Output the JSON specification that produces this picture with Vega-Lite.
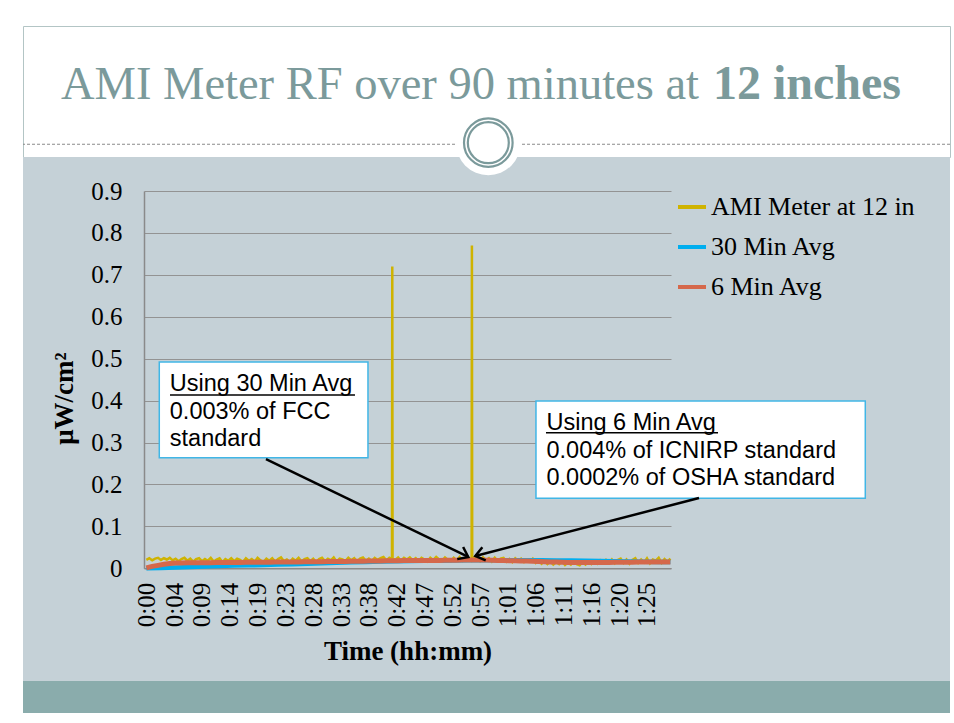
{
  "$schema": "https://vega.github.io/schema/vega-lite/v6.json",
  "background": "white",
  "padding": {"left": 22, "top": 25, "right": 5, "bottom": 11},
  "spacing": 0,
  "bounds": "flush",
  "datasets": {
    "ami": [
      {"t":0,"v":0.020},{"t":0.5,"v":0.024},{"t":1,"v":0.019},{"t":1.5,"v":0.023},{"t":2,"v":0.025},{"t":2.5,"v":0.020},{"t":3,"v":0.024},{"t":3.5,"v":0.021},{"t":4,"v":0.025},{"t":4.5,"v":0.019},
      {"t":5,"v":0.023},{"t":5.5,"v":0.017},{"t":6,"v":0.022},{"t":6.5,"v":0.025},{"t":7,"v":0.018},{"t":7.5,"v":0.023},{"t":8,"v":0.016},{"t":8.5,"v":0.022},{"t":9,"v":0.024},{"t":9.5,"v":0.017},
      {"t":10,"v":0.022},{"t":10.5,"v":0.018},{"t":11,"v":0.025},{"t":11.5,"v":0.016},{"t":12,"v":0.021},{"t":12.5,"v":0.024},{"t":13,"v":0.015},{"t":13.5,"v":0.022},{"t":14,"v":0.018},{"t":14.5,"v":0.024},
      {"t":15,"v":0.017},{"t":15.5,"v":0.023},{"t":16,"v":0.020},{"t":16.5,"v":0.015},{"t":17,"v":0.024},{"t":17.5,"v":0.018},{"t":18,"v":0.022},{"t":18.5,"v":0.016},{"t":19,"v":0.025},{"t":19.5,"v":0.019},
      {"t":20,"v":0.015},{"t":20.5,"v":0.023},{"t":21,"v":0.018},{"t":21.5,"v":0.024},{"t":22,"v":0.016},{"t":22.5,"v":0.022},{"t":23,"v":0.026},{"t":23.5,"v":0.017},{"t":24,"v":0.021},{"t":24.5,"v":0.015},
      {"t":25,"v":0.023},{"t":25.5,"v":0.018},{"t":26,"v":0.025},{"t":26.5,"v":0.016},{"t":27,"v":0.022},{"t":27.5,"v":0.024},{"t":28,"v":0.017},{"t":28.5,"v":0.023},{"t":29,"v":0.015},{"t":29.5,"v":0.022},
      {"t":30,"v":0.025},{"t":30.5,"v":0.017},{"t":31,"v":0.023},{"t":31.5,"v":0.019},{"t":32,"v":0.026},{"t":32.5,"v":0.016},{"t":33,"v":0.023},{"t":33.5,"v":0.021},{"t":34,"v":0.017},{"t":34.5,"v":0.025},
      {"t":35,"v":0.019},{"t":35.5,"v":0.024},{"t":36,"v":0.016},{"t":36.5,"v":0.023},{"t":37,"v":0.026},{"t":37.5,"v":0.018},{"t":38,"v":0.023},{"t":38.5,"v":0.017},{"t":39,"v":0.025},{"t":39.5,"v":0.020},
      {"t":40,"v":0.024},{"t":40.5,"v":0.027},{"t":41,"v":0.019},{"t":41.5,"v":0.025},{"t":41.95,"v":0.022},{"t":42,"v":0.72},{"t":42.05,"v":0.023},{"t":42.5,"v":0.020},{"t":43,"v":0.026},{"t":43.5,"v":0.018},{"t":44,"v":0.025},{"t":44.5,"v":0.021},
      {"t":45,"v":0.026},{"t":45.5,"v":0.019},{"t":46,"v":0.024},{"t":46.5,"v":0.017},{"t":47,"v":0.025},{"t":47.5,"v":0.021},{"t":48,"v":0.016},{"t":48.5,"v":0.025},{"t":49,"v":0.020},{"t":49.5,"v":0.027},
      {"t":50,"v":0.021},{"t":50.5,"v":0.018},{"t":51,"v":0.026},{"t":51.5,"v":0.020},{"t":52,"v":0.017},{"t":52.5,"v":0.025},{"t":53,"v":0.019},{"t":53.5,"v":0.027},{"t":54,"v":0.018},{"t":54.5,"v":0.023},
      {"t":55,"v":0.026},{"t":55.5,"v":0.019},{"t":55.55,"v":0.022},{"t":55.6,"v":0.77},{"t":55.65,"v":0.022},{"t":56,"v":0.025},{"t":56.5,"v":0.020},{"t":57,"v":0.017},{"t":57.5,"v":0.026},{"t":58,"v":0.019},{"t":58.5,"v":0.024},{"t":59,"v":0.016},{"t":59.5,"v":0.025},
      {"t":60,"v":0.017},{"t":60.5,"v":0.023},{"t":61,"v":0.025},{"t":61.5,"v":0.016},{"t":62,"v":0.022},{"t":62.5,"v":0.015},{"t":63,"v":0.024},{"t":63.5,"v":0.018},{"t":64,"v":0.023},{"t":64.5,"v":0.015},
      {"t":65,"v":0.021},{"t":65.5,"v":0.016},{"t":66,"v":0.023},{"t":66.5,"v":0.013},{"t":67,"v":0.019},{"t":67.5,"v":0.011},{"t":68,"v":0.017},{"t":68.5,"v":0.010},{"t":69,"v":0.016},{"t":69.5,"v":0.009},
      {"t":70,"v":0.015},{"t":70.5,"v":0.010},{"t":71,"v":0.017},{"t":71.5,"v":0.008},{"t":72,"v":0.014},{"t":72.5,"v":0.009},{"t":73,"v":0.016},{"t":73.5,"v":0.010},{"t":74,"v":0.007},{"t":74.5,"v":0.015},
      {"t":75,"v":0.009},{"t":75.5,"v":0.016},{"t":76,"v":0.010},{"t":76.5,"v":0.018},{"t":77,"v":0.011},{"t":77.5,"v":0.019},{"t":78,"v":0.012},{"t":78.5,"v":0.020},{"t":79,"v":0.013},{"t":79.5,"v":0.021},
      {"t":80,"v":0.012},{"t":80.5,"v":0.020},{"t":81,"v":0.023},{"t":81.5,"v":0.013},{"t":82,"v":0.021},{"t":82.5,"v":0.011},{"t":83,"v":0.020},{"t":83.5,"v":0.024},{"t":84,"v":0.013},{"t":84.5,"v":0.021},
      {"t":85,"v":0.014},{"t":85.5,"v":0.024},{"t":86,"v":0.012},{"t":86.5,"v":0.021},{"t":87,"v":0.018},{"t":87.5,"v":0.025},{"t":88,"v":0.013},{"t":88.5,"v":0.022},{"t":89,"v":0.016},{"t":89.5,"v":0.023}
    ],
    "avg30": [
      {"t":0,"v":0.0},{"t":2.5,"v":0.001},{"t":5,"v":0.002},{"t":7.5,"v":0.003},{"t":10,"v":0.0045},{"t":12.5,"v":0.0055},{"t":15,"v":0.0065},{"t":17.5,"v":0.007},{"t":20,"v":0.0078},{"t":22.5,"v":0.0088},
      {"t":25,"v":0.0098},{"t":27.5,"v":0.011},{"t":30,"v":0.0122},{"t":32.5,"v":0.0133},{"t":35,"v":0.0143},{"t":37.5,"v":0.0152},{"t":40,"v":0.016},{"t":42.5,"v":0.0168},{"t":45,"v":0.0174},{"t":47.5,"v":0.0179},
      {"t":50,"v":0.0183},{"t":52.5,"v":0.0187},{"t":55,"v":0.019},{"t":57.5,"v":0.0192},{"t":60,"v":0.0193},{"t":62.5,"v":0.0193},{"t":65,"v":0.0192},{"t":67.5,"v":0.019},{"t":70,"v":0.0187},{"t":72.5,"v":0.0184},
      {"t":75,"v":0.018},{"t":77.5,"v":0.0175},{"t":80,"v":0.0168},{"t":82.5,"v":0.0162},{"t":85,"v":0.0157},{"t":87.5,"v":0.0153},{"t":89.5,"v":0.0151}
    ],
    "avg6": [
      {"t":0,"v":0.001},{"t":1,"v":0.0045},{"t":2,"v":0.007},{"t":3,"v":0.0095},{"t":4,"v":0.0115},{"t":5,"v":0.0125},{"t":6,"v":0.0128},{"t":7,"v":0.013},{"t":8,"v":0.0131},{"t":9,"v":0.0132},
      {"t":10,"v":0.0133},{"t":11,"v":0.0135},{"t":12,"v":0.0136},{"t":13,"v":0.0137},{"t":14,"v":0.0138},{"t":15,"v":0.014},{"t":16,"v":0.0141},{"t":17,"v":0.0142},{"t":18,"v":0.0143},{"t":19,"v":0.0144},
      {"t":20,"v":0.0145},{"t":21,"v":0.0147},{"t":22,"v":0.0148},{"t":23,"v":0.015},{"t":24,"v":0.0151},{"t":25,"v":0.0152},{"t":26,"v":0.0153},{"t":27,"v":0.0155},{"t":28,"v":0.0156},{"t":29,"v":0.0157},
      {"t":30,"v":0.0158},{"t":31,"v":0.016},{"t":32,"v":0.0161},{"t":33,"v":0.0163},{"t":34,"v":0.0165},{"t":35,"v":0.0166},{"t":36,"v":0.0168},{"t":37,"v":0.017},{"t":38,"v":0.0172},{"t":39,"v":0.0174},
      {"t":40,"v":0.0176},{"t":41,"v":0.0178},{"t":42,"v":0.018},{"t":43,"v":0.0182},{"t":44,"v":0.0184},{"t":45,"v":0.0185},{"t":46,"v":0.0186},{"t":47,"v":0.0186},{"t":48,"v":0.0187},{"t":49,"v":0.0188},
      {"t":50,"v":0.0189},{"t":51,"v":0.019},{"t":52,"v":0.0191},{"t":53,"v":0.0193},{"t":54,"v":0.0195},{"t":55,"v":0.0197},{"t":56,"v":0.0198},{"t":57,"v":0.0197},{"t":58,"v":0.0195},{"t":59,"v":0.0192},
      {"t":60,"v":0.0189},{"t":61,"v":0.0186},{"t":62,"v":0.0183},{"t":63,"v":0.018},{"t":64,"v":0.0176},{"t":65,"v":0.0172},{"t":66,"v":0.0168},{"t":67,"v":0.0163},{"t":68,"v":0.0158},{"t":69,"v":0.0153},
      {"t":70,"v":0.0148},{"t":71,"v":0.0144},{"t":72,"v":0.0141},{"t":73,"v":0.0139},{"t":74,"v":0.0138},{"t":75,"v":0.0137},{"t":76,"v":0.0137},{"t":77,"v":0.0138},{"t":78,"v":0.0139},{"t":79,"v":0.0141},
      {"t":80,"v":0.0143},{"t":81,"v":0.0145},{"t":82,"v":0.0146},{"t":83,"v":0.0147},{"t":84,"v":0.0148},{"t":85,"v":0.0149},{"t":86,"v":0.015},{"t":87,"v":0.015},{"t":88,"v":0.0151},{"t":89,"v":0.0151},{"t":89.5,"v":0.0151}
    ],
    "boxes": [
      {"t1":2.21,"t2":37.85,"v1":0.2638,"v2":0.4921,"ut1":4.04,"ut2":35.63,"uv":0.4134,"txt":"Using 30 Min Avg\n0.003% of FCC\nstandard"},
      {"t1":66.54,"t2":122.78,"v1":0.167,"v2":0.3991,"ut1":68.25,"ut2":97.63,"uv":0.3235,"txt":"Using 6 Min Avg\n0.004% of ICNIRP standard\n0.0002% of OSHA standard"}
    ],
    "arrows": [
      {"id":1,"t1":20.43,"v1":0.2607,"t2":54.98,"v2":0.027},
      {"id":2,"t1":94.38,"v1":0.1677,"t2":56.18,"v2":0.0293}
    ]
  },
  "vconcat": [
    {
      "width": 927,
      "height": 131,
      "view": {"fill": "white", "stroke": "#b3c5c5", "strokeWidth": 1},
      "data": {"values": [{"a": "AMI Meter RF over 90 minutes at", "b": "12 inches"}]},
      "layer": [
        {"mark": {"type": "text", "font": "Liberation Serif", "fontSize": 46.5, "color": "#7b9a9b", "align": "right", "baseline": "alphabetic", "dx": 212.5, "dy": 7.5},
         "encoding": {"text": {"field": "a", "type": "nominal"}}},
        {"mark": {"type": "text", "font": "Liberation Serif", "fontSize": 48, "fontWeight": "bold", "color": "#7b9a9b", "align": "left", "baseline": "alphabetic", "dx": 226.5, "dy": 7.5},
         "encoding": {"text": {"field": "b", "type": "nominal"}}}
      ]
    },
    {
      "width": 927,
      "height": 524,
      "view": {"fill": "#c5d1d7", "stroke": null},
      "layer": [
        {
          "data": {"name": "ami"},
          "mark": {"type": "line", "strokeWidth": 2.5},
          "encoding": {
            "x": {"field": "t", "type": "quantitative",
              "scale": {"domain": [-0.4, 89.6], "range": [121, 648], "nice": false, "zero": false},
              "axis": {"title": "Time (hh:mm)", "values": [0,4.75,9.5,14.25,19,23.75,28.5,33.25,38,42.75,47.5,52.25,57,61.75,66.5,71.25,76,80.75,85.5],
                "labelExpr": "floor(datum.value/60) + ':' + (floor(datum.value%60) < 10 ? '0' : '') + floor(datum.value%60)",
                "labelAngle": -90, "labelFontSize": 25, "labelPadding": 14, "titleFontSize": 27, "titlePadding": 12, "offset": -112.7, "grid": false}},
            "y": {"field": "v", "type": "quantitative",
              "scale": {"domain": [0, 0.9], "range": [411.3, 34], "nice": false, "zero": false},
              "axis": {"title": "μW/cm²", "values": [0,0.1,0.2,0.3,0.4,0.5,0.6,0.7,0.8,0.9], "format": ".1~f",
                "labelFontSize": 25, "labelPadding": 22, "titleFontSize": 27, "titlePadding": 12, "titleY": 241, "offset": -121, "grid": true}},
            "color": {"datum": "AMI Meter at 12 in",
              "scale": {"domain": ["AMI Meter at 12 in", "30 Min Avg", "6 Min Avg"], "range": ["#cfb300", "#00aeef", "#d5684b"]},
              "legend": {"orient": "none", "legendX": 653, "legendY": 165, "title": null, "symbolType": "stroke", "symbolSize": 784, "symbolStrokeWidth": 4,
                "labelFont": "Liberation Serif", "labelFontSize": 26, "labelColor": "black", "labelOffset": 3, "rowPadding": 11, "padding": 0, "labelLimit": 300}}
          }
        },
        {
          "data": {"name": "avg30"},
          "mark": {"type": "line", "strokeWidth": 4.5},
          "encoding": {
            "x": {"field": "t", "type": "quantitative"},
            "y": {"field": "v", "type": "quantitative"},
            "color": {"datum": "30 Min Avg"}
          }
        },
        {
          "data": {"name": "avg6"},
          "mark": {"type": "line", "strokeWidth": 5},
          "encoding": {
            "x": {"field": "t", "type": "quantitative"},
            "y": {"field": "v", "type": "quantitative"},
            "color": {"datum": "6 Min Avg"}
          }
        },
        {
          "data": {"values": [{}]},
          "mark": {"type": "rule", "stroke": "#8a8a8a", "strokeWidth": 1, "strokeDash": [3, 2]},
          "encoding": {"y": {"datum": 1.0115, "type": "quantitative"}}
        },
        {
          "data": {"values": [{}]},
          "mark": {"type": "point", "shape": "circle", "filled": true, "fill": "white", "size": 4225, "opacity": 1, "strokeWidth": 0},
          "encoding": {"x": {"datum": 58.4, "type": "quantitative"}, "y": {"datum": 1.0153, "type": "quantitative"}}
        },
        {
          "data": {"values": [{}]},
          "mark": {"type": "point", "shape": "circle", "filled": false, "stroke": "#7b9a9b", "strokeWidth": 2.2, "size": 2362, "opacity": 1},
          "encoding": {"x": {"datum": 58.4, "type": "quantitative"}, "y": {"datum": 1.0153, "type": "quantitative"}}
        },
        {
          "data": {"values": [{}]},
          "mark": {"type": "point", "shape": "circle", "filled": false, "stroke": "#7b9a9b", "strokeWidth": 2.2, "size": 1681, "opacity": 1},
          "encoding": {"x": {"datum": 58.4, "type": "quantitative"}, "y": {"datum": 1.0153, "type": "quantitative"}}
        },
        {
          "data": {"name": "boxes"},
          "mark": {"type": "rect", "fill": "white", "stroke": "#41b6e6", "strokeWidth": 1.5},
          "encoding": {
            "x": {"field": "t1", "type": "quantitative"}, "x2": {"field": "t2"},
            "y": {"field": "v1", "type": "quantitative"}, "y2": {"field": "v2"}
          }
        },
        {
          "data": {"name": "boxes"},
          "mark": {"type": "text", "font": "Liberation Sans", "fontSize": 23.5, "color": "black", "align": "left", "baseline": "alphabetic", "dx": 10.5, "dy": 29, "lineBreak": "\n", "lineHeight": 27.6},
          "encoding": {
            "x": {"field": "t1", "type": "quantitative"},
            "y": {"field": "v2", "type": "quantitative"},
            "text": {"field": "txt", "type": "nominal"}
          }
        },
        {
          "data": {"name": "boxes"},
          "mark": {"type": "rule", "color": "black", "strokeWidth": 1.5},
          "encoding": {
            "x": {"field": "ut1", "type": "quantitative"}, "x2": {"field": "ut2"},
            "y": {"field": "uv", "type": "quantitative"}
          }
        },
        {
          "data": {"name": "arrows"},
          "mark": {"type": "rule", "color": "black", "strokeWidth": 2.5},
          "encoding": {
            "x": {"field": "t1", "type": "quantitative"}, "x2": {"field": "t2"},
            "y": {"field": "v1", "type": "quantitative"}, "y2": {"field": "v2"}
          }
        },
        {
          "data": {"name": "arrows"},
          "transform": [{"filter": "datum.id == 1"}],
          "mark": {"type": "point", "shape": "M-1,-0.75L0,0L-1,0.75", "filled": false, "stroke": "black", "strokeWidth": 2.5, "size": 324, "angle": 25.9, "opacity": 1},
          "encoding": {"x": {"field": "t2", "type": "quantitative"}, "y": {"field": "v2", "type": "quantitative"}}
        },
        {
          "data": {"name": "arrows"},
          "transform": [{"filter": "datum.id == 2"}],
          "mark": {"type": "point", "shape": "M-1,-0.75L0,0L-1,0.75", "filled": false, "stroke": "black", "strokeWidth": 2.5, "size": 324, "angle": 165.5, "opacity": 1},
          "encoding": {"x": {"field": "t2", "type": "quantitative"}, "y": {"field": "v2", "type": "quantitative"}}
        }
      ]
    },
    {
      "width": 927,
      "height": 32,
      "view": {"fill": "#8aacac", "stroke": null},
      "data": {"values": []},
      "mark": "rule",
      "encoding": {}
    }
  ],
  "config": {
    "font": "Liberation Serif",
    "axis": {
      "labelFont": "Liberation Serif", "labelColor": "black",
      "titleFont": "Liberation Serif", "titleColor": "black", "titleFontWeight": "bold",
      "ticks": false, "domainColor": "#8a8a8a", "domainWidth": 1.5,
      "gridColor": "#939393", "gridWidth": 1.2,
      "labelFlush": false, "labelOverlap": false, "labelBound": false
    }
  }
}
